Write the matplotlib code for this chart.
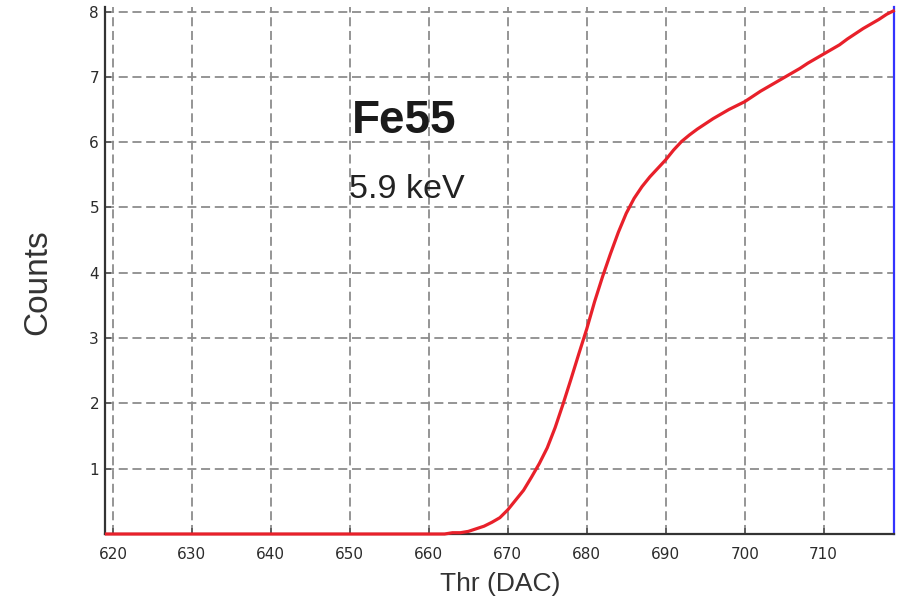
import matplotlib
matplotlib.use("Agg")
import matplotlib.pyplot as plt

# threshold scan, Fe55 source
thr = [619, 662, 663, 664, 665, 666, 667, 668, 669, 670,
       671, 672, 673, 674, 675, 676, 677, 678, 679, 680,
       681, 682, 683, 684, 685, 686, 687, 688, 689, 690,
       691, 692, 693, 694, 695, 696, 697, 698, 699, 700,
       701, 702, 703, 704, 705, 706, 707, 708, 709, 710,
       711, 712, 713, 714, 715, 716, 717, 718, 719]
counts = [0.0, 0.0, 0.02, 0.02, 0.04, 0.08, 0.12, 0.18, 0.25, 0.37,
          0.52, 0.67, 0.87, 1.08, 1.32, 1.63, 1.99, 2.37, 2.76, 3.14,
          3.56, 3.94, 4.29, 4.62, 4.91, 5.14, 5.32, 5.47, 5.60, 5.73,
          5.88, 6.01, 6.11, 6.20, 6.28, 6.36, 6.43, 6.50, 6.56, 6.62,
          6.70, 6.78, 6.85, 6.92, 6.99, 7.06, 7.13, 7.21, 7.28, 7.35,
          7.42, 7.49, 7.58, 7.66, 7.74, 7.81, 7.88, 7.96, 8.02]

x_ticks = [620, 630, 640, 650, 660, 670, 680, 690, 700, 710]
y_ticks = [1, 2, 3, 4, 5, 6, 7, 8]

fig = plt.figure(figsize=(9.05, 5.97), dpi=100)
ax = fig.add_axes([0.116, 0.1055, 0.8718, 0.8828])

ax.set_xlim(619, 718.9)
ax.set_ylim(0, 8.07)

# let the curve sit on top of the bottom spine, but stop at the right edge
line, = ax.plot(thr, counts, color="#e8202a", lw=2.3, solid_capstyle="butt",
                zorder=4, clip_on=False)
x0, x1 = ax.get_xlim()
clip = plt.Rectangle((x0, -1), x1 - x0, 10, transform=ax.transData, visible=False)
ax.add_patch(clip)
line.set_clip_path(clip)

ax.set_xticks(x_ticks)
ax.set_yticks(y_ticks)
ax.grid(True, color="#8c8c8c", lw=1.3, linestyle=(0, (5, 2.6)))
ax.set_axisbelow(True)

ax.tick_params(axis="both", direction="in", length=4, width=1.2, color="#555555",
               labelsize=11, labelcolor="#2b2b2b")
ax.tick_params(axis="x", pad=9)
ax.tick_params(axis="y", pad=4.3)
for lab in ax.get_xticklabels() + ax.get_yticklabels():
    lab.set_family("DejaVu Sans")

ax.spines["top"].set_visible(False)
ax.spines["left"].set_color("#333333")
ax.spines["left"].set_linewidth(1.6)
ax.spines["bottom"].set_color("#333333")
ax.spines["bottom"].set_linewidth(1.6)
ax.spines["right"].set_color("#3333ff")
ax.spines["right"].set_linewidth(1.6)

sans = ["Liberation Sans", "DejaVu Sans"]
fig.text(0.446, 0.777, "Fe55", ha="center", va="baseline", fontsize=33,
         fontweight="bold", color="#1a1a1a", family=sans)
fig.text(0.449, 0.668, "5.9 keV", ha="center", va="baseline", fontsize=24.5,
         color="#222222", family=sans)
fig.text(0.042, 1 - 282 / 597, "Counts", rotation=90, ha="center", va="center",
         fontsize=24, color="#333333", family=sans)
fig.text(500 / 905, 1 - 584 / 597, "Thr (DAC)", ha="center", va="center",
         fontsize=19, color="#333333", family=sans)

fig.savefig("out.png", dpi=100)
